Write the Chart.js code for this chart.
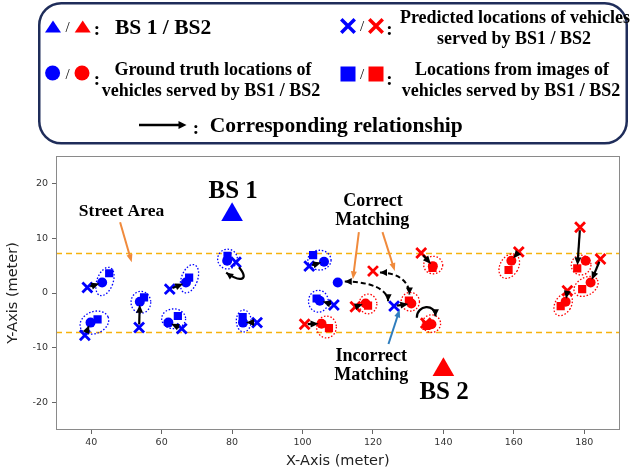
<!DOCTYPE html>
<html>
<head>
<meta charset="utf-8">
<script src="https://cdn.jsdelivr.net/npm/chart.js@4.4.1/dist/chart.umd.min.js"></script>
<style>
  html, body { margin: 0; padding: 0; background: #fff; }
  #wrap { position: relative; width: 632px; height: 475px; overflow: hidden; }
  #plot { position: absolute; left: 0; top: 0; }
  #key { position: absolute; left: 0; top: 0; }
  #key text { font-family: "Liberation Serif", "Times New Roman", serif; font-weight: bold; fill: #000; }
</style>
</head>
<body>
<div id="wrap">
  <canvas id="plot" width="632" height="475"></canvas>
  <svg id="key" width="632" height="150" xmlns="http://www.w3.org/2000/svg">
    <rect x="39.25" y="3.25" width="587.5" height="140" rx="22" ry="22" fill="#fff" stroke="#1f2d5a" stroke-width="2.5"/>
    <!-- row 1, left: base stations -->
    <polygon points="53,20.5 45,32.5 61,32.5" fill="#0000ff"/>
    <text x="67.7" y="27" font-size="15" text-anchor="middle" dominant-baseline="central" style="font-weight:normal">/</text>
    <polygon points="82.7,20.5 74.7,32.5 90.7,32.5" fill="#ff0000"/>
    <text x="97" y="28" font-size="19" text-anchor="middle" dominant-baseline="central">:</text>
    <text x="115" y="27" font-size="21.5" dominant-baseline="central">BS 1 / BS2</text>
    <!-- row 1, right: predictions -->
    <path d="M342.5,20.5 L353.5,31.5 M353.5,20.5 L342.5,31.5" stroke="#0000ff" stroke-width="3.5" stroke-linecap="square"/>
    <text x="362" y="26" font-size="15" text-anchor="middle" dominant-baseline="central" style="font-weight:normal">/</text>
    <path d="M370.5,20.5 L381.5,31.5 M381.5,20.5 L370.5,31.5" stroke="#ff0000" stroke-width="3.5" stroke-linecap="square"/>
    <text x="389.5" y="28" font-size="19" text-anchor="middle" dominant-baseline="central">:</text>
    <text x="515" y="17" font-size="18" text-anchor="middle" dominant-baseline="central">Predicted locations of vehicles</text>
    <text x="514" y="38" font-size="18" text-anchor="middle" dominant-baseline="central">served by BS1 / BS2</text>
    <!-- row 2, left: ground truth -->
    <circle cx="52.6" cy="73" r="7.5" fill="#0000ff"/>
    <text x="67.7" y="74" font-size="15" text-anchor="middle" dominant-baseline="central" style="font-weight:normal">/</text>
    <circle cx="82" cy="73" r="7.5" fill="#ff0000"/>
    <text x="97" y="78" font-size="19" text-anchor="middle" dominant-baseline="central">:</text>
    <text x="213" y="69" font-size="18" text-anchor="middle" dominant-baseline="central">Ground truth locations of</text>
    <text x="211" y="90" font-size="18" text-anchor="middle" dominant-baseline="central">vehicles served by BS1 / BS2</text>
    <!-- row 2, right: image locations -->
    <rect x="340.5" y="66.5" width="15" height="15" fill="#0000ff"/>
    <text x="362" y="74" font-size="15" text-anchor="middle" dominant-baseline="central" style="font-weight:normal">/</text>
    <rect x="368.5" y="66.5" width="15" height="15" fill="#ff0000"/>
    <text x="389.5" y="78" font-size="19" text-anchor="middle" dominant-baseline="central">:</text>
    <text x="512" y="69" font-size="18" text-anchor="middle" dominant-baseline="central">Locations from images of</text>
    <text x="511" y="90" font-size="18" text-anchor="middle" dominant-baseline="central">vehicles served by BS1 / BS2</text>
    <!-- row 3: relationship arrow -->
    <line x1="139" y1="125" x2="180" y2="125" stroke="#000" stroke-width="2.5"/>
    <polygon points="186.5,125 178.5,121 178.5,129" fill="#000"/>
    <text x="196" y="127" font-size="19" text-anchor="middle" dominant-baseline="central">:</text>
    <text x="209.7" y="125" font-size="21.5" dominant-baseline="central">Corresponding relationship</text>
  </svg>
</div>
<script>
// ---------------- data (meters) ----------------
const X_TICKS = [40, 60, 80, 100, 120, 140, 160, 180];
const Y_TICKS = [-20, -10, 0, 10, 20];
const STREET_EDGES = [7.2, -7.2];

const BS1 = [{ x: 80, y: 14.3 }];
const BS2 = [{ x: 140, y: -14 }];

// vehicles served by BS1
const truthBS1 = [
  { x: 43.1, y: 1.9 }, { x: 39.8, y: -5.4 }, { x: 53.8, y: -1.6 }, { x: 66.9, y: 1.9 },
  { x: 61.9, y: -5.4 }, { x: 78.6, y: 5.9 }, { x: 83.1, y: -5.4 }, { x: 106.1, y: 5.7 },
  { x: 104.9, y: -1.4 }, { x: 110.0, y: 1.9 }
];
const imageBS1 = [
  { x: 45.1, y: 3.6 }, { x: 41.8, y: -4.8 }, { x: 55.0, y: -0.8 }, { x: 67.8, y: 2.8 },
  { x: 64.6, y: -4.2 }, { x: 78.7, y: 6.8 }, { x: 83.0, y: -4.4 }, { x: 103.0, y: 6.9 },
  { x: 104.0, y: -1.0 }
];
const predBS1 = [
  { x: 38.9, y: 1.0 }, { x: 38.2, y: -7.7 }, { x: 53.6, y: -6.3 }, { x: 62.3, y: 0.7 },
  { x: 65.7, y: -6.5 }, { x: 81.1, y: 5.6 }, { x: 87.1, y: -5.4 }, { x: 101.9, y: 4.9 },
  { x: 108.9, y: -2.2 }, { x: 126.0, y: -2.4 }
];

// vehicles served by BS2
const truthBS2 = [
  { x: 117.9, y: -1.9 }, { x: 105.4, y: -5.6 }, { x: 130.9, y: -1.9 }, { x: 137.0, y: 4.9 },
  { x: 136.6, y: -5.7 }, { x: 159.3, y: 5.9 }, { x: 180.4, y: 5.9 }, { x: 181.8, y: 1.9 },
  { x: 174.7, y: -1.6 }
];
const imageBS2 = [
  { x: 118.6, y: -2.3 }, { x: 107.5, y: -6.4 }, { x: 130.2, y: -1.4 }, { x: 136.9, y: 4.6 },
  { x: 135.2, y: -6.0 }, { x: 158.5, y: 4.2 }, { x: 178.0, y: 4.5 }, { x: 179.4, y: 0.7 },
  { x: 173.3, y: -2.4 }
];
const predBS2 = [
  { x: 115.0, y: -2.5 }, { x: 100.6, y: -5.7 }, { x: 120.0, y: 4.0 }, { x: 133.7, y: 7.3 },
  { x: 135.0, y: -5.5 }, { x: 161.4, y: 7.5 }, { x: 178.8, y: 12.0 }, { x: 184.6, y: 6.2 },
  { x: 175.2, y: 0.4 }
];

// uncertainty regions around image locations: centre, semi-axes (m), tilt (deg)
const regionsBS1 = [
  { x: 43.9, y: 2.1, a: 2.3, b: 2.7, tilt: 20 },
  { x: 40.9, y: -5.4, a: 4.2, b: 2.0, tilt: -22 },
  { x: 54.1, y: -1.7, a: 2.8, b: 2.0, tilt: 0 },
  { x: 67.9, y: 2.6, a: 2.3, b: 2.7, tilt: 20 },
  { x: 63.4, y: -4.7, a: 3.4, b: 1.8, tilt: 0 },
  { x: 78.7, y: 6.2, a: 2.8, b: 1.8, tilt: 0 },
  { x: 83.3, y: -5.1, a: 2.1, b: 2.0, tilt: 0 },
  { x: 104.8, y: 6.0, a: 3.3, b: 1.8, tilt: 0 },
  { x: 104.5, y: -1.5, a: 2.8, b: 2.0, tilt: 0 }
];
const regionsBS2 = [
  { x: 118.6, y: -2.0, a: 2.5, b: 1.8, tilt: 0 },
  { x: 106.8, y: -6.2, a: 2.8, b: 2.0, tilt: 0 },
  { x: 130.6, y: -1.6, a: 2.6, b: 1.7, tilt: 0 },
  { x: 137.1, y: 5.1, a: 2.7, b: 1.6, tilt: 0 },
  { x: 136.6, y: -5.6, a: 2.6, b: 1.6, tilt: 0 },
  { x: 158.7, y: 4.9, a: 2.6, b: 2.4, tilt: 30 },
  { x: 179.1, y: 5.1, a: 2.8, b: 1.8, tilt: 0 },
  { x: 180.5, y: 1.2, a: 3.7, b: 1.6, tilt: -30 },
  { x: 174.0, y: -2.1, a: 2.3, b: 2.2, tilt: 30 }
];

// correspondences: prediction -> matched location
const links = [
  [predBS1[0], truthBS1[0]], [predBS1[1], truthBS1[1]], [predBS1[2], truthBS1[2]],
  [predBS1[3], truthBS1[3]], [predBS1[4], truthBS1[4]], [predBS1[6], truthBS1[6]],
  [predBS1[7], truthBS1[7]], [predBS1[8], truthBS1[8]], [predBS1[9], truthBS2[2]],
  [predBS2[0], truthBS2[0]], [predBS2[1], truthBS2[1]], [predBS2[3], truthBS2[3]],
  [predBS2[5], truthBS2[5]], [predBS2[6], imageBS2[6]], [predBS2[7], truthBS2[7]],
  [predBS2[8], truthBS2[8]]
];
// self-matches drawn as loops (below / above the vehicle)
const loops = [
  { from: predBS1[5], to: truthBS1[5], side: 'below' },
  { from: predBS2[4], to: truthBS2[4], side: 'above' }
];
// the two correct matchings shown as dashed curves
const dashedLinks = [
  { from: truthBS1[9], to: predBS1[9] },
  { from: predBS2[2], to: truthBS2[2] }
];

// ---------------- drawing helpers ----------------
const BLUE = '#0000ff', RED = '#ff0000', ORANGE = '#f08a3c', STEEL = '#2f7dbd', GOLD = '#f6b20c';

function head(ctx, x, y, ang, len, wid) {
  ctx.save();
  ctx.translate(x, y); ctx.rotate(ang);
  ctx.beginPath();
  ctx.moveTo(0, 0); ctx.lineTo(-len, wid / 2); ctx.lineTo(-len, -wid / 2);
  ctx.closePath(); ctx.fill();
  ctx.restore();
}
function arrow(ctx, x1, y1, x2, y2, st) {
  const ang = Math.atan2(y2 - y1, x2 - x1);
  const c = Math.cos(ang), s = Math.sin(ang);
  const sx = x1 + c * st.shrinkA, sy = y1 + s * st.shrinkA;
  const tx = x2 - c * st.shrinkB, ty = y2 - s * st.shrinkB;
  ctx.save();
  ctx.strokeStyle = st.color; ctx.fillStyle = st.color; ctx.lineWidth = st.width;
  ctx.lineCap = 'butt';
  ctx.beginPath();
  ctx.moveTo(sx, sy);
  ctx.lineTo(tx - c * st.head * 0.7, ty - s * st.head * 0.7);
  ctx.stroke();
  head(ctx, tx, ty, ang, st.head, st.headW);
  ctx.restore();
}
function bezierArrow(ctx, p0, c1, c2, p1, st, both) {
  ctx.save();
  ctx.strokeStyle = st.color; ctx.fillStyle = st.color; ctx.lineWidth = st.width;
  ctx.setLineDash(st.dash || []);
  ctx.beginPath();
  ctx.moveTo(p0.x, p0.y);
  ctx.bezierCurveTo(c1.x, c1.y, c2.x, c2.y, p1.x, p1.y);
  ctx.stroke();
  ctx.setLineDash([]);
  head(ctx, p1.x, p1.y, Math.atan2(p1.y - c2.y, p1.x - c2.x), st.head, st.headW);
  if (both) head(ctx, p0.x, p0.y, Math.atan2(p0.y - c1.y, p0.x - c1.x), st.head, st.headW);
  ctx.restore();
}

const linkStyle = { color: '#000', width: 2.2, head: 8, headW: 7, shrinkA: 3, shrinkB: 3 };

// street edges + uncertainty ellipses, under the markers
const underlay = {
  id: 'underlay',
  beforeDatasetsDraw(chart) {
    const { ctx, chartArea: ca, scales: { x, y } } = chart;
    ctx.save();
    ctx.strokeStyle = GOLD; ctx.lineWidth = 1.5; ctx.setLineDash([6, 4]);
    STREET_EDGES.forEach(v => {
      const py = y.getPixelForValue(v);
      ctx.beginPath(); ctx.moveTo(ca.left, py); ctx.lineTo(ca.right, py); ctx.stroke();
    });
    const sx = Math.abs(x.getPixelForValue(1) - x.getPixelForValue(0));
    const sy = Math.abs(y.getPixelForValue(1) - y.getPixelForValue(0));
    ctx.lineWidth = 1.3; ctx.setLineDash([1.5, 1.8]);
    [[regionsBS1, BLUE], [regionsBS2, RED]].forEach(([list, col]) => {
      ctx.strokeStyle = col;
      list.forEach(e => {
        ctx.beginPath();
        ctx.ellipse(x.getPixelForValue(e.x), y.getPixelForValue(e.y), e.a * sx, e.b * sy,
          e.tilt * Math.PI / 180, 0, Math.PI * 2);
        ctx.stroke();
      });
    });
    ctx.restore();
  }
};

// correspondences, annotations and plot frame, over the markers
const overlay = {
  id: 'overlay',
  afterDatasetsDraw(chart) {
    const { ctx, chartArea: ca, scales: { x, y } } = chart;
    const P = d => ({ x: x.getPixelForValue(d.x), y: y.getPixelForValue(d.y) });

    links.forEach(([a, b]) => {
      const p = P(a), q = P(b);
      arrow(ctx, p.x, p.y, q.x, q.y, linkStyle);
    });

    loops.forEach(l => {
      const p = P(l.from), q = P(l.to);
      let s, e, c1, c2;
      if (l.side === 'below') {
        s = { x: p.x + 3, y: p.y + 5 }; e = { x: q.x - 1, y: q.y + 12 };
        c1 = { x: s.x + 11, y: s.y + 13 }; c2 = { x: e.x + 14, y: e.y + 10 };
      } else {
        s = { x: p.x - 9, y: p.y - 5.5 }; e = { x: q.x + 4, y: q.y - 8 };
        c1 = { x: s.x, y: s.y - 13 }; c2 = { x: e.x, y: e.y - 13 };
      }
      bezierArrow(ctx, s, c1, c2, e, { color: '#000', width: 2.2, head: 7, headW: 7 }, false);
    });

    const dashOff = [[{ x: 7, y: -1 }, { x: -6, y: -5 }], [{ x: 7, y: 1.5 }, { x: -2, y: -9 }]];
    dashedLinks.forEach((d, i) => {
      const a = P(d.from), b = P(d.to);
      const s = { x: a.x + dashOff[i][0].x, y: a.y + dashOff[i][0].y };
      const e = { x: b.x + dashOff[i][1].x, y: b.y + dashOff[i][1].y };
      const c1 = { x: s.x + 0.6 * (e.x - s.x), y: s.y };
      const c2 = { x: e.x, y: e.y - 0.6 * (e.y - s.y) };
      bezierArrow(ctx, s, c1, c2, e, { color: '#000', width: 2, head: 7, headW: 7, dash: [5, 3] }, true);
    });

    // callouts
    const pointer = { width: 2, head: 8, headW: 6, shrinkA: 0, shrinkB: 0 };
    [
      [48.2, 12.9, 51.5, 5.6, ORANGE], [116.0, 11.1, 114.3, 2.5, ORANGE],
      [122.7, 11.1, 126.2, 4.0, ORANGE], [124.4, -9.3, 127.6, -3.0, STEEL]
    ].forEach(([x1, y1, x2, y2, col]) => {
      arrow(ctx, x.getPixelForValue(x1), y.getPixelForValue(y1),
        x.getPixelForValue(x2), y.getPixelForValue(y2), Object.assign({ color: col }, pointer));
    });

    ctx.save();
    ctx.fillStyle = '#000'; ctx.textAlign = 'center'; ctx.textBaseline = 'middle';
    [
      ['Street Area', 48.6, 14.8, 17.5], ['Correct', 120.0, 16.8, 18], ['Matching', 119.8, 13.2, 18],
      ['Incorrect', 119.5, -11.5, 18], ['Matching', 119.5, -15.1, 18],
      ['BS 1', 80.3, 18.6, 25], ['BS 2', 140.2, -18.2, 25]
    ].forEach(([t, tx, ty, sz]) => {
      ctx.font = 'bold ' + sz + 'px "Liberation Serif", "Times New Roman", serif';
      ctx.fillText(t, x.getPixelForValue(tx), y.getPixelForValue(ty));
    });
    ctx.restore();

    ctx.save();
    ctx.strokeStyle = '#8a8a8a'; ctx.lineWidth = 1;
    ctx.strokeRect(Math.round(ca.left) + 0.5, Math.round(ca.top) + 0.5,
      Math.round(ca.right - ca.left) - 1, Math.round(ca.bottom - ca.top) - 1);
    ctx.restore();
  }
};

const tickFont = { family: '"DejaVu Sans", sans-serif', size: 9.5 };
const titleFont = { family: '"DejaVu Sans", sans-serif', size: 14.5 };

new Chart(document.getElementById('plot'), {
  type: 'scatter',
  data: {
    datasets: [
      { label: 'Ground truth (BS1)', data: truthBS1, pointStyle: 'circle', radius: 5, backgroundColor: BLUE, borderColor: BLUE, borderWidth: 0 },
      { label: 'Ground truth (BS2)', data: truthBS2, pointStyle: 'circle', radius: 5, backgroundColor: RED, borderColor: RED, borderWidth: 0 },
      { label: 'Image (BS1)', data: imageBS1, pointStyle: 'rect', radius: 5.8, backgroundColor: BLUE, borderColor: BLUE, borderWidth: 0 },
      { label: 'Image (BS2)', data: imageBS2, pointStyle: 'rect', radius: 5.8, backgroundColor: RED, borderColor: RED, borderWidth: 0 },
      { label: 'Predicted (BS1)', data: predBS1, pointStyle: 'crossRot', radius: 7, borderColor: BLUE, borderWidth: 2.8 },
      { label: 'Predicted (BS2)', data: predBS2, pointStyle: 'crossRot', radius: 7, borderColor: RED, borderWidth: 2.8 },
      { label: 'BS1', data: BS1, pointStyle: 'triangle', radius: 12.5, backgroundColor: BLUE, borderColor: BLUE, borderWidth: 0 },
      { label: 'BS2', data: BS2, pointStyle: 'triangle', radius: 12.5, backgroundColor: RED, borderColor: RED, borderWidth: 0 }
    ]
  },
  options: {
    responsive: false,
    animation: false,
    events: [],
    layout: { padding: { top: 156, right: 12, left: 0, bottom: 0 } },
    plugins: { legend: { display: false }, tooltip: { enabled: false } },
    scales: {
      x: {
        type: 'linear', min: 30, max: 190,
        afterBuildTicks: s => { s.ticks = X_TICKS.map(v => ({ value: v })); },
        afterFit: s => { s.height = 45; },
        ticks: { font: tickFont, color: '#333', padding: 3, maxRotation: 0 },
        grid: { drawOnChartArea: false, tickLength: 4, color: '#666' },
        border: { display: false },
        title: { display: true, text: 'X-Axis (meter)', font: titleFont, color: '#222', padding: { top: 0, bottom: 5 } }
      },
      y: {
        type: 'linear', min: -25, max: 25,
        afterBuildTicks: s => { s.ticks = Y_TICKS.map(v => ({ value: v })); },
        afterFit: s => { s.width = 56; },
        ticks: { font: tickFont, color: '#333', padding: 4 },
        grid: { drawOnChartArea: false, tickLength: 4, color: '#666' },
        border: { display: false },
        title: { display: true, text: 'Y-Axis (meter)', font: titleFont, color: '#222', padding: { top: 5, bottom: 0 } }
      }
    }
  },
  plugins: [underlay, overlay]
});
</script>
</body>
</html>
